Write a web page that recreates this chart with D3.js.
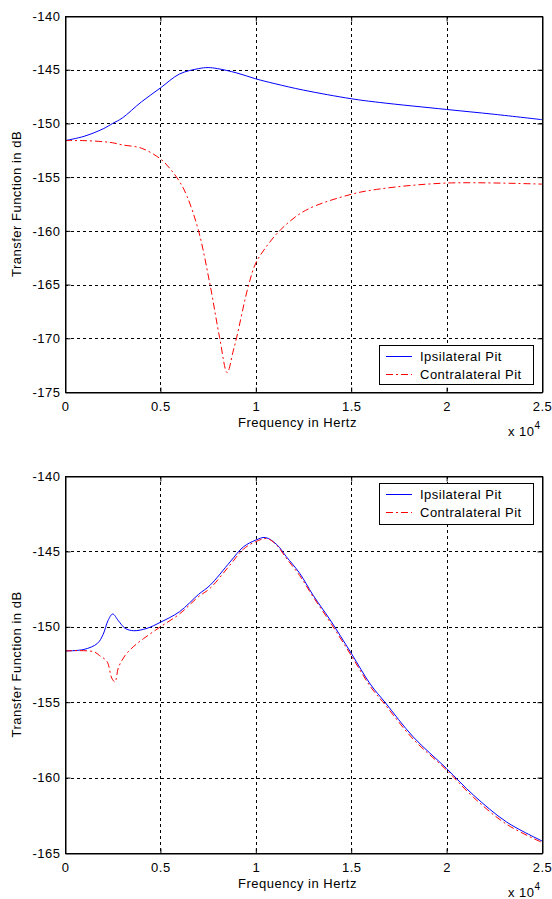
<!DOCTYPE html>
<html>
<head>
<meta charset="utf-8">
<script src="https://cdn.jsdelivr.net/npm/d3@7"></script>
<style>
  html, body { margin: 0; padding: 0; background: #fff; }
  svg { display: block; }
  text { font-family: Arial, "Liberation Sans", sans-serif; fill: #000; letter-spacing: 0.5px; }
</style>
</head>
<body>
<svg id="fig" width="552" height="899"></svg>
<script>
// Frequency response of the two pits (Hz, dB)
const topIpsiFreq = [0, 1000, 2000, 2500, 3000, 4000, 5000, 6000, 7000, 7500, 8000, 9000, 10000, 11000, 12500, 15000, 16500, 20000, 22500, 25000];
const topIpsiDb   = [-151.6, -151.2, -150.5, -150.0, -149.5, -148.0, -146.7, -145.4, -144.9, -144.8, -144.9, -145.3, -145.85, -146.3, -146.9, -147.7, -148.05, -148.7, -149.15, -149.65];

const topContraFreq = [0, 1000, 2000, 2500, 3000, 4000, 5000, 5500, 6000, 6400, 7000, 7600, 8100, 8500, 8800, 9000, 9600, 10000, 10500, 11300, 12600, 15000, 16500, 20000, 25000];
const topContraDb   = [-151.6, -151.6, -151.7, -151.8, -152.0, -152.3, -153.3, -154.2, -155.4, -156.8, -160.0, -165.0, -169.9, -173.2, -171.3, -169.9, -165.2, -163.0, -161.6, -159.9, -158.1, -156.6, -156.1, -155.55, -155.65];

const botIpsiFreq = [0, 1000, 1700, 2000, 2250, 2500, 2800, 3150, 3600, 4300, 5000, 6000, 7000, 7600, 8650, 9350, 10000, 10500, 11100, 11600, 12300, 13000, 13900, 15000, 16000, 16800, 18250, 20000, 21400, 23150, 25000];
const botIpsiDb   = [-151.6, -151.5, -151.1, -150.5, -149.6, -149.15, -149.6, -150.1, -150.26, -150.1, -149.7, -149.0, -147.85, -147.25, -145.7, -144.7, -144.25, -144.08, -144.55, -145.35, -146.45, -147.9, -149.55, -151.75, -153.8, -155.05, -157.3, -159.4, -161.15, -162.95, -164.2];

const botContraFreq = [0, 1500, 1800, 2200, 2450, 2620, 2800, 3150, 3600, 4100, 5000, 6000, 7000, 7600, 8650, 9350, 10000, 10600, 11100, 11600, 12300, 13000, 13900, 15000, 16000, 16800, 18250, 20000, 21400, 23150, 25000];
const botContraDb   = [-151.6, -151.65, -151.9, -152.3, -153.4, -153.65, -152.7, -151.9, -151.3, -150.8, -150.0, -149.15, -148.0, -147.45, -145.9, -144.85, -144.35, -144.15, -144.6, -145.45, -146.6, -148.0, -149.7, -151.9, -153.95, -155.2, -157.45, -159.5, -161.3, -163.1, -164.3];

const xTicks = [0, 5000, 10000, 15000, 20000, 25000];
const xTickLabels = ["0", "0.5", "1", "1.5", "2", "2.5"];
const topYTicks = [-140, -145, -150, -155, -160, -165, -170, -175];
const botYTicks = [-140, -145, -150, -155, -160, -165];
const seriesNames = ["Ipsilateral Pit", "Contralateral Pit"];
const seriesColors = ["#0000ff", "#ff0000"];
const contraDash = "7,3,2,3";

const svg = d3.select("#fig");
const left = 65, right = 542;

function panel(opts) {
  const x = d3.scaleLinear().domain([0, 25000]).range([left, right]);
  const y = d3.scaleLinear().domain(opts.yDomain).range([opts.bottom, opts.top]);
  const g = svg.append("g");

  // dotted grid
  const grid = g.append("g").style("stroke", "#000").attr("stroke-width", 1)
    .attr("stroke-dasharray", "3,3").attr("shape-rendering", "crispEdges");
  xTicks.slice(1, -1).forEach(t => {
    grid.append("line").attr("x1", Math.round(x(t)) + 0.5).attr("x2", Math.round(x(t)) + 0.5)
      .attr("y1", opts.top).attr("y2", opts.bottom);
  });
  opts.yTicks.slice(1, -1).forEach(t => {
    grid.append("line").attr("y1", Math.round(y(t)) + 0.5).attr("y2", Math.round(y(t)) + 0.5)
      .attr("x1", left).attr("x2", right);
  });

  // curves
  const line = d3.line().x(d => x(d[0])).y(d => y(d[1])).curve(d3.curveCatmullRom.alpha(0.5));
  g.append("path").datum(d3.zip(opts.ipsiF, opts.ipsiV)).attr("d", line)
    .style("fill", "none").style("stroke", seriesColors[0]).style("stroke-width", 1);
  g.append("path").datum(d3.zip(opts.contraF, opts.contraV)).attr("d", line)
    .style("fill", "none").style("stroke", seriesColors[1]).style("stroke-width", 1)
    .style("stroke-dasharray", contraDash);

  // axes with inward ticks
  const xAxisB = d3.axisBottom(x).tickValues(xTicks).tickFormat((d, i) => xTickLabels[i])
    .tickSizeInner(-5).tickSizeOuter(0).tickPadding(9);
  g.append("g").attr("transform", `translate(0,${opts.bottom + 0.5})`).call(xAxisB);
  const yAxisL = d3.axisLeft(y).tickValues(opts.yTicks).tickFormat(d => String(d))
    .tickSizeInner(-5).tickSizeOuter(0).tickPadding(5);
  g.append("g").attr("transform", `translate(${left + 0.5},0)`).call(yAxisL);
  const xAxisT = d3.axisTop(x).tickValues(xTicks).tickFormat("").tickSizeInner(-5).tickSizeOuter(0);
  g.append("g").attr("transform", `translate(0,${opts.top + 0.5})`).call(xAxisT);
  const yAxisR = d3.axisRight(y).tickValues(opts.yTicks).tickFormat("").tickSizeInner(-5).tickSizeOuter(0);
  g.append("g").attr("transform", `translate(${right + 0.5},0)`).call(yAxisR);
  g.selectAll(".domain").attr("stroke", "#000");
  g.selectAll(".tick line").attr("stroke", "#000");
  g.selectAll(".tick text").attr("font-size", 13).attr("font-family", "Arial, 'Liberation Sans', sans-serif");

  // box
  g.append("rect").attr("x", left + 0.5).attr("y", opts.top + 0.5)
    .attr("width", right - left).attr("height", opts.bottom - opts.top)
    .style("fill", "none").style("stroke", "#000");

  // axis titles
  g.append("text").attr("x", (left + right) / 2 - 6).attr("y", opts.bottom + 35)
    .attr("text-anchor", "middle").attr("font-size", 13).text("Frequency in Hertz");
  g.append("text").attr("transform", `translate(21,${(opts.top + opts.bottom) / 2}) rotate(-90)`)
    .attr("text-anchor", "middle").attr("font-size", 13).text("Transfer Function in dB");
  const ex = g.append("text").attr("x", 508).attr("y", opts.bottom + 44).attr("font-size", 13);
  ex.append("tspan").text("x 10");
  ex.append("tspan").attr("dy", -7).attr("font-size", 10).text("4");

  // legend
  const lg = g.append("g").attr("transform", `translate(379,${opts.legendTop})`);
  lg.append("rect").attr("x", 0.5).attr("y", 0.5).attr("width", 154).attr("height", opts.legendH)
    .style("fill", "#fff").style("stroke", "#000");
  seriesNames.forEach((name, i) => {
    const yy = 11 + i * 18;
    lg.append("line").attr("x1", 7).attr("x2", 33).attr("y1", yy + 0.5).attr("y2", yy + 0.5)
      .style("stroke", seriesColors[i]).style("stroke-width", 1)
      .style("stroke-dasharray", i === 1 ? contraDash : "none");
    lg.append("text").attr("x", 41).attr("y", yy + 5).attr("font-size", 13).text(name);
  });
}

panel({ top: 16, bottom: 392, yDomain: [-175, -140], yTicks: topYTicks, legendTop: 345, legendH: 39,
        ipsiF: topIpsiFreq, ipsiV: topIpsiDb, contraF: topContraFreq, contraV: topContraDb });
panel({ top: 476, bottom: 853, yDomain: [-165, -140], yTicks: botYTicks, legendTop: 483, legendH: 41,
        ipsiF: botIpsiFreq, ipsiV: botIpsiDb, contraF: botContraFreq, contraV: botContraDb });
</script>
</body>
</html>
